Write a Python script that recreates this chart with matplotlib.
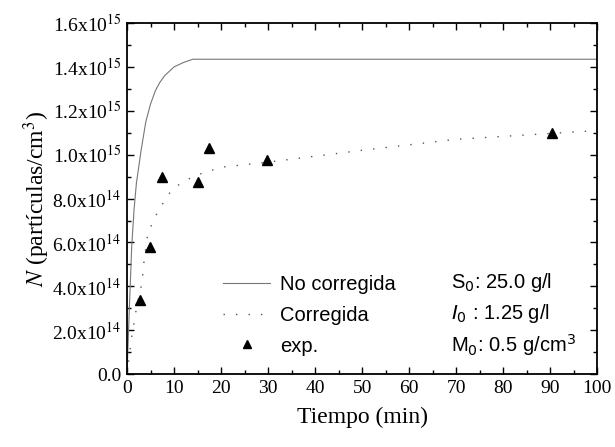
import matplotlib.pyplot as plt
import numpy as np
from matplotlib.ticker import MultipleLocator, FuncFormatter

plt.rcParams['mathtext.fontset'] = 'stix'

# curves (N in units of 1e15 particles/cm3)
t_nocorr = [0, 0.5, 1, 1.5, 2, 3, 4, 5, 6, 7, 8, 10, 12, 14, 20, 40, 60, 80, 100]
n_nocorr = [0, 0.30, 0.58, 0.75, 0.87, 1.02, 1.15, 1.23, 1.29, 1.33, 1.36, 1.40, 1.42, 1.435,
            1.435, 1.435, 1.435, 1.435, 1.435]
t_corr = [0, 1, 2, 3.2, 3.6, 4.4, 6.2, 8.5, 10, 14, 16, 20, 30, 50, 70, 100]
n_corr = [0, 0.17, 0.30, 0.42, 0.51, 0.64, 0.725, 0.81, 0.85, 0.90, 0.915, 0.943, 0.966,
          1.02, 1.07, 1.11]
t_exp = [2.8, 4.9, 7.5, 15, 17.5, 29.7, 90.4]
n_exp = [0.337, 0.58, 0.897, 0.875, 1.03, 0.975, 1.10]

scale = 1e15
fig = plt.figure(figsize=(6.15, 4.47), dpi=100)
ax = fig.add_axes([0.2065, 0.163, 0.7645, 0.7855])

ax.plot(t_nocorr, np.array(n_nocorr) * scale, '-', color='#777777', lw=0.8, label='No corregida')
ax.plot(t_corr, np.array(n_corr) * scale, linestyle=(0, (1, 8)), color='#555555', lw=1.0,
        label='Corregida')
ax.plot(t_exp, np.array(n_exp) * scale, '^', color='black', ms=7, label='exp.')

ax.set_xlim(0, 100)
ax.set_ylim(0, 1.6e15)
ax.xaxis.set_major_locator(MultipleLocator(10))
ax.xaxis.set_minor_locator(MultipleLocator(5))
ax.yaxis.set_major_locator(MultipleLocator(0.2e15))
ax.yaxis.set_minor_locator(MultipleLocator(0.1e15))


def yfmt(v, pos):
    if v < 1e10:
        return '0.0'
    e = int(np.floor(np.log10(v) + 1e-9))
    return r'%.1fx10$^{%d}$' % (v / 10**e, e)


ax.yaxis.set_major_formatter(FuncFormatter(yfmt))
ax.tick_params(which='both', direction='in', top=True, right=True, width=1.0)
ax.tick_params(which='major', length=5, labelsize=14, pad=4)
ax.tick_params(which='minor', length=3)
for lab in ax.get_xticklabels() + ax.get_yticklabels():
    lab.set_fontfamily('Liberation Serif')
for s in ax.spines.values():
    s.set_linewidth(1.3)

ax.set_xlabel('Tiempo (min)', fontsize=17, family='Liberation Serif', labelpad=7)
ax.set_ylabel(r'$N$ (partículas/cm$^3$)', fontsize=17, family='Liberation Serif', labelpad=0)

leg = ax.legend(loc='upper left', bbox_to_anchor=(0.175, 0.322), frameon=False,
                prop={'family': 'Liberation Sans', 'size': 14.5}, handlelength=2.3,
                labelspacing=0.58, handletextpad=0.5, markerscale=0.8, borderpad=0.2)

notes = [r'S$_0$: 25.0 g/l', r'$I_0$ : 1.25 g/l', r'M$_0$: 0.5 g/cm$^3$']
for i, txt in enumerate(notes):
    ax.text(0.69, 0.26 - i * 0.088, txt, transform=ax.transAxes, fontsize=14.5,
            family='Liberation Sans', math_fontfamily='dejavusans', va='center', ha='left')

fig.savefig('out.png', dpi=100)
